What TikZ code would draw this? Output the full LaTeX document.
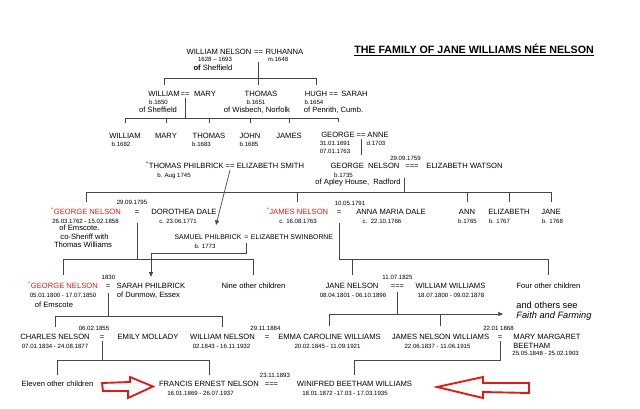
\documentclass[tikz,border=0pt]{standalone}
\usepackage{fontspec}
\setmainfont{Liberation Sans}
\usetikzlibrary{arrows.meta,calc}

\definecolor{famred}{RGB}{225,25,25}
\definecolor{famline}{RGB}{70,70,70}

\tikzset{
  nm/.style={font=\fontsize{6.5}{7}\selectfont, inner sep=1pt, text height=4.7pt, text depth=0pt},
  sm/.style={font=\fontsize{5.9}{6.5}\selectfont, inner sep=1pt, text height=4.3pt, text depth=0pt},
  dt/.style={font=\fontsize{5.2}{6}\selectfont, inner sep=1pt, text height=3.8pt, text depth=0pt},
  rd/.style={nm, text=famred},
  bg/.style={font=\fontsize{7.9}{9}\selectfont, inner sep=1pt, text height=5.7pt, text depth=0pt, anchor=west},
  ln/.style={draw=famline, line width=0.6pt},
  arr/.style={ln, -{Triangle[length=4pt,width=3.4pt]}},
  bigarrow/.style={draw=famred, line width=1.6pt, fill=white, line join=miter},
}

\begin{document}
\begin{tikzpicture}[x=0.3mm, y=-0.3mm]
  \useasboundingbox (0,0) rectangle (640,408);

  \node[font=\bfseries\fontsize{9.1}{10}\selectfont, inner sep=0pt, anchor=base] (title) at (474,53.8) {\underline{THE FAMILY OF JANE WILLIAMS NÉE NELSON}};

  \coordinate (bar0) at (0,78);
  \coordinate (bar1) at (0,118);
  \coordinate (bar3) at (0,192);
  \coordinate (bar4) at (0,259);
  \coordinate (bar4s) at (0,253);
  \coordinate (bar5a) at (0,316);
  \coordinate (bar5b) at (0,314);
  \coordinate (bar6) at (0,360);

  \node[nm] (wn0) at (219,52) {WILLIAM NELSON};
  \node[nm] (eq0) at (258.5,52) {==};
  \node[nm] (ruh0) at (284.5,52) {RUHANNA};
  \node[dt] (wn0d) at (215,59) {1628 – 1693};
  \node[dt] (ruh0d) at (278,59) {m.1648};
  \node[nm] (wn0o) at (213,68) {\textbf{of} Sheffield};

  \node[nm] (wi1) at (164,94) {WILLIAM};
  \node[nm] (eq1) at (185,94) {==};
  \node[nm] (ma1) at (205,94) {MARY};
  \node[dt] (wi1d) at (158.5,102) {b.1650};
  \node[nm] (wi1o) at (158,110) {of Sheffield};
  \node[nm] (th1) at (261,94) {THOMAS};
  \node[dt] (th1d) at (256,102) {b.1651};
  \node[nm] (th1o) at (257,110) {of Wisbech, Norfolk};
  \node[nm] (hu1) at (316,94) {HUGH};
  \node[nm] (eq1b) at (333.5,94) {==};
  \node[nm] (sa1) at (354.5,94) {SARAH};
  \node[dt] (hu1d) at (314,102) {b.1654};
  \node[nm] (hu1o) at (333.5,110) {of Penrith, Cumb.};

  \node[nm] (wi2) at (125,136) {WILLIAM};
  \node[dt] (wi2d) at (121,144) {b.1682};
  \node[nm] (ma2) at (166,136) {MARY};
  \node[nm] (th2) at (209,136) {THOMAS};
  \node[dt] (th2d) at (201.5,144) {b.1683};
  \node[nm] (jo2) at (250,136) {JOHN};
  \node[dt] (jo2d) at (249,144) {b.1685};
  \node[nm] (ja2) at (289,136) {JAMES};
  \node[nm] (ge2) at (338,135) {GEORGE};
  \node[nm] (eq2) at (361,135) {==};
  \node[nm] (an2) at (378,135) {ANNE};
  \node[dt] (ge2b) at (335,143) {31.01.1691};
  \node[dt] (ge2d) at (335,151) {07.01.1763};
  \node[dt] (an2d) at (376,143) {d.1703};

  \node[nm] (tp3) at (185,166) {\textsuperscript{*}THOMAS PHILBRICK};
  \node[nm] (eq3) at (230,166) {==};
  \node[nm] (es3) at (270.5,166) {ELIZABETH SMITH};
  \node[dt] (tp3d) at (174,175) {b. Aug 1745};
  \node[nm] (gn3) at (365,166) {GEORGE\ \ NELSON};
  \node[nm] (eq3w) at (412,166) {===};
  \node[nm] (ew3) at (464.5,166) {ELIZABETH WATSON};
  \node[dt] (eq3wd) at (405.5,158) {29.09.1759};
  \node[dt] (gn3d) at (343.5,175) {b.1735};
  \node[nm] (gn3o) at (358,182) {of Apley House,\ \ Radford};

  \node[rd] (gnr) at (86,212) {\textsuperscript{*}GEORGE NELSON};
  \node[nm] (eqgd) at (137,212) {=};
  \node[nm] (dd) at (184,212) {DOROTHEA DALE};
  \node[dt] (eqgdd) at (132,202) {29.09.1795};
  \node[dt] (gnrd) at (85.5,221) {26.03.1762 - 15.02.1858};
  \node[nm] (gnro1) at (79.5,228) {of Emscote.};
  \node[nm] (gnro2) at (84.5,237) {co-Sheriff with};
  \node[nm] (gnro3) at (83,245) {Thomas Williams};
  \node[dt] (ddd) at (178,221) {c. 23.06.1771};
  \node[rd] (jnr) at (297.5,212) {\textsuperscript{*}JAMES NELSON};
  \node[dt] (jnrd) at (298,221) {c. 16.08.1763};
  \node[nm] (eqja) at (339,212) {=};
  \node[nm] (amd) at (391,212) {ANNA MARIA DALE};
  \node[dt] (eqjad) at (350,203) {10.05.1791};
  \node[dt] (amdd) at (382,221) {c.\ \ 22.10.1766};
  \node[nm] (ann) at (467,212) {ANN};
  \node[dt] (annd) at (467.5,221) {b.1765};
  \node[nm] (eli) at (509,212) {ELIZABETH};
  \node[dt] (elid) at (499.5,221) {b. 1767};
  \node[nm] (jan) at (551,212) {JANE};
  \node[dt] (jand) at (552.5,221) {b. 1768};

  \node[sm] (sp) at (208,237) {SAMUEL PHILBRICK};
  \node[sm] (eqsp) at (246.5,237) {=};
  \node[sm] (esw) at (292,237) {ELIZABETH SWINBORNE};
  \node[dt] (spd) at (205,246) {b. 1773};

  \node[rd] (gnr4) at (63,286) {\textsuperscript{*}GEORGE NELSON};
  \node[nm] (eqgs) at (108,286) {=};
  \node[nm] (sarah4) at (151,286) {SARAH PHILBRICK};
  \node[dt] (eqgsd) at (108.5,277) {1830};
  \node[dt] (gnr4d) at (63,295) {05.01.1800 - 17.07.1850};
  \node[nm] (gnr4o) at (54,305) {of Emscote};
  \node[nm] (sarah4o) at (148.5,295) {of Dunmow, Essex};
  \node[nm] (nine) at (253.5,286) {Nine other children};
  \node[nm] (jn4) at (352,286) {JANE NELSON};
  \node[nm] (eqjw) at (397.5,286) {===};
  \node[nm] (ww4) at (450.5,286) {WILLIAM WILLIAMS};
  \node[dt] (eqjwd) at (397.5,277) {11.07.1825};
  \node[dt] (jn4d) at (353,295) {08.04.1801 - 06.10.1896};
  \node[dt] (ww4d) at (451,295) {18.07.1800 - 09.02.1878};
  \node[nm] (four) at (548.5,286) {Four other children};
  \node[bg] (others) at (515,305) {and others see};
  \node[bg, font=\fontsize{7.9}{9}\selectfont\itshape] (faith) at (515,315) {Faith and Farming};

  \node[nm] (cn5) at (55,337) {CHARLES NELSON};
  \node[nm] (eqce) at (102,337) {=};
  \node[nm] (em5) at (148,337) {EMILY MOLLADY};
  \node[dt] (eqced) at (94,328) {06.02.1855};
  \node[dt] (cn5d) at (55,346) {07.01.1834 - 24.08.1877};
  \node[nm] (wn5) at (222.5,337) {WILLIAM NELSON};
  \node[nm] (eqwe) at (267,337) {=};
  \node[nm] (ecw) at (329.5,337) {EMMA CAROLINE WILLIAMS};
  \node[dt] (eqwed) at (265.5,328) {29.11.1884};
  \node[dt] (wn5d) at (221.5,346) {02.1843 - 16.11.1932};
  \node[dt] (ecwd) at (327.5,346) {20.02.1845 - 11.09.1921};
  \node[nm] (jnw) at (440.5,337) {JAMES NELSON WILLIAMS};
  \node[nm] (eqjm) at (500,337) {=};
  \node[nm, anchor=west] (mmb) at (512,337) {MARY MARGARET};
  \node[nm, anchor=west] (mmb2) at (512,345.5) {BEETHAM};
  \node[dt, anchor=west] (mmbd) at (511,353) {25.05.1848 - 25.02.1903};
  \node[dt] (eqjmd) at (498.5,328) {22.01 1868};
  \node[dt] (jnwd) at (437.5,346) {22.06.1837 - 11.06.1915};

  \node[nm] (el6) at (57.5,384) {Eleven other children};
  \node[nm] (fen) at (209,384) {FRANCIS ERNEST NELSON};
  \node[nm] (eqfw) at (271.5,384) {===};
  \node[nm] (wbw) at (354.5,384) {WINIFRED BEETHAM WILLIAMS};
  \node[dt] (eqfwd) at (275,375) {23.11.1893};
  \node[dt] (fend) at (200.5,393) {16.01.1869 - 26.07.1937};
  \node[dt] (wbwd) at (345,393) {18.01.1872 -17.03 - 17.03.1935};

  \draw[ln, shorten <=1.8mm, shorten >=1.5mm] (eq0.south) -- (eq0.south |- th1.north);
  \draw[ln] (wi1.north |- bar0) -- (hu1.north |- bar0);
  \foreach \n in {wi1, hu1} \draw[ln, shorten >=1.5mm] (\n.north |- bar0) -- (\n.north);

  \draw[ln] (eq1.south) -- (eq1.south |- bar1);
  \draw[ln] (wi2.north |- bar1) -- (ge2.north |- bar1);
  \foreach \n in {wi2, ma2, th2, jo2, ja2, ge2} \draw[ln, shorten >=2.7mm] (\n.north |- bar1) -- (\n.north);

  \draw[ln, shorten >=2.2mm] (eq2.south) -- (eq2.south |- gn3.north);

  \draw[ln] (gn3o.north -| eq3w.west) -- (eq3w.west |- bar3);
  \draw[ln] (gnr.north |- bar3) -- (jan.north |- bar3);
  \foreach \n in {gnr, jnr, ann, eli, jan} \draw[ln, shorten >=1.8mm] (\n.north |- bar3) -- (\n.north);

  \draw[arr] (eq3.south) -- ([xshift=2.4mm,yshift=2.4mm]sp.north);

  \draw[ln, shorten <=2.1mm] (eqgd.south) -- (eqgd.south |- bar4);
  \draw[ln] (gnr4.north |- bar4) -- (nine.north |- bar4);
  \foreach \n in {gnr4, nine} \draw[ln, shorten >=2mm] (\n.north |- bar4) -- (\n.north);

  \draw[arr, shorten <=0.7mm, shorten >=1.5mm] (eqsp.south) |- (sarah4.north |- bar4s) -- (sarah4.north);

  \draw[ln, shorten <=2.1mm] (eqja.south) |- (four.north |- bar4);
  \foreach \n in {jn4, four} \draw[ln, shorten >=2mm] (\n.north |- bar4) -- (\n.north);

  \draw[ln, shorten <=0.9mm] (eqgs.south) -- (eqgs.south |- bar5a);
  \draw[ln] (cn5.north |- bar5a) -- (wn5.north |- bar5a);
  \foreach \n in {cn5, wn5} \draw[ln, shorten >=1.8mm] (\n.north |- bar5a) -- (\n.north);

  \draw[ln, shorten <=0.6mm] (eqjw.south) -- (eqjw.south |- bar5b);
  \draw[arr, shorten >=3.6mm] (ecw.north |- bar5b) -- (others.west |- bar5b);
  \foreach \n in {ecw, jnw} \draw[ln, shorten >=2.1mm] (\n.north |- bar5b) -- (\n.north);

  \draw[ln] (eqce.south) -- (eqce.south |- bar6);
  \draw[ln] (el6.north |- bar6) -- (fen.north |- bar6);
  \foreach \n in {el6, fen} \draw[ln, shorten >=1.5mm] (\n.north |- bar6) -- (\n.north);

  \draw[ln] (eqjm.south) |- (wbw.north |- bar6);
  \draw[ln, shorten >=1.5mm] (wbw.north |- bar6) -- (wbw.north);

  \draw[bigarrow] (102,383) -- (130,382) -- (130,377) -- (153,386.5) -- (128,398) -- (128,391) -- (103,391) -- cycle;
  \draw[bigarrow] (437,387) -- (483,377) -- (483,383) -- (529,383) -- (529,393) -- (483,392) -- (483,398) -- cycle;
\end{tikzpicture}
\end{document}
